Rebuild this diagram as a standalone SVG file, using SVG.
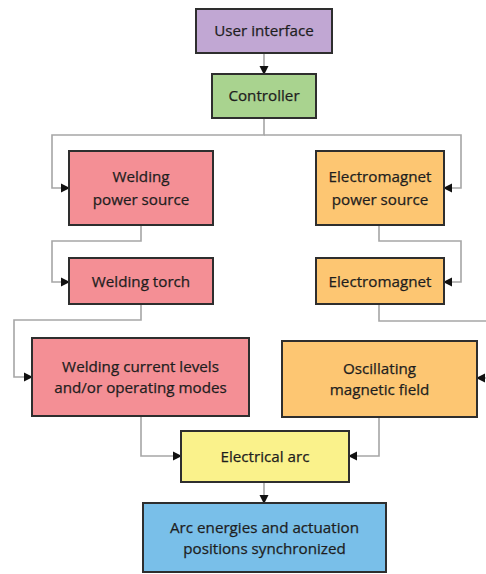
<svg xmlns="http://www.w3.org/2000/svg" width="486" height="574" viewBox="0 0 486 574">
<defs>
<style>
.box{stroke:#2e2e2e;stroke-width:2}
.t{font-family:"Open Sans","Liberation Sans",sans-serif;font-size:15.2px;fill:#1e1e1e;text-anchor:middle;stroke:#1e1e1e;stroke-width:0.25}
.c{fill:none;stroke:#a6a6a6;stroke-width:1.6}
</style>
<marker id="ah" markerWidth="10" markerHeight="10" refX="8" refY="5" orient="auto" markerUnits="userSpaceOnUse">
<path d="M0,0.5 L9,5 L0,9.5 Z" fill="#111"/>
</marker>
</defs>
<rect width="486" height="574" fill="#fff"/>
<g id="connectors">
<path class="c" d="M264,53 V74" marker-end="url(#ah)"/>
<path class="c" d="M264,118 V135 H52 V188 H69" marker-end="url(#ah)"/>
<path class="c" d="M264,135 H461 V188 H444" marker-end="url(#ah)"/>
<path class="c" d="M141,225 V241 H52 V282 H69" marker-end="url(#ah)"/>
<path class="c" d="M379,225 V241 H461 V282 H444" marker-end="url(#ah)"/>
<path class="c" d="M141,304 V320 H14 V377 H32" marker-end="url(#ah)"/>
<path class="c" d="M379,304 V321 H500 V378 H477" marker-end="url(#ah)"/>
<path class="c" d="M141,416 V456 H181" marker-end="url(#ah)"/>
<path class="c" d="M379,417 V456 H349" marker-end="url(#ah)"/>
<path class="c" d="M264,482 V503" marker-end="url(#ah)"/>
</g>
<g id="user-interface">
<rect class="box" x="196" y="9" width="136" height="44" fill="#c1a7d3"/>
<text class="t" x="264" y="36">User interface</text>
</g>
<g id="controller">
<rect class="box" x="212" y="74" width="104" height="44" fill="#a9d38f"/>
<text class="t" x="264" y="101">Controller</text>
</g>
<g id="welding-power-source">
<rect class="box" x="69" y="151" width="144" height="74" fill="#f48f95"/>
<text class="t" x="141" y="182">Welding</text>
<text class="t" x="141" y="205">power source</text>
</g>
<g id="electromagnet-power-source">
<rect class="box" x="316" y="151" width="128" height="74" fill="#fdc672"/>
<text class="t" x="380" y="182">Electromagnet</text>
<text class="t" x="380" y="205">power source</text>
</g>
<g id="welding-torch">
<rect class="box" x="69" y="258" width="144" height="46" fill="#f48f95"/>
<text class="t" x="141" y="287">Welding torch</text>
</g>
<g id="electromagnet">
<rect class="box" x="316" y="258" width="128" height="46" fill="#fdc672"/>
<text class="t" x="380" y="287">Electromagnet</text>
</g>
<g id="welding-current-levels">
<rect class="box" x="32" y="338" width="217" height="78" fill="#f48f95"/>
<text class="t" x="140.5" y="372">Welding current levels</text>
<text class="t" x="140.5" y="393">and/or operating modes</text>
</g>
<g id="oscillating-magnetic-field">
<rect class="box" x="282" y="341" width="195" height="76" fill="#fdc672"/>
<text class="t" x="379.5" y="374">Oscillating</text>
<text class="t" x="379.5" y="395">magnetic field</text>
</g>
<g id="electrical-arc">
<rect class="box" x="181" y="431" width="168" height="51" fill="#faf28b"/>
<text class="t" x="265" y="462">Electrical arc</text>
</g>
<g id="arc-energies">
<rect class="box" x="143" y="503" width="243" height="69" fill="#79bfe9"/>
<text class="t" x="264.5" y="533">Arc energies and actuation</text>
<text class="t" x="264.5" y="554">positions synchronized</text>
</g>
</svg>
